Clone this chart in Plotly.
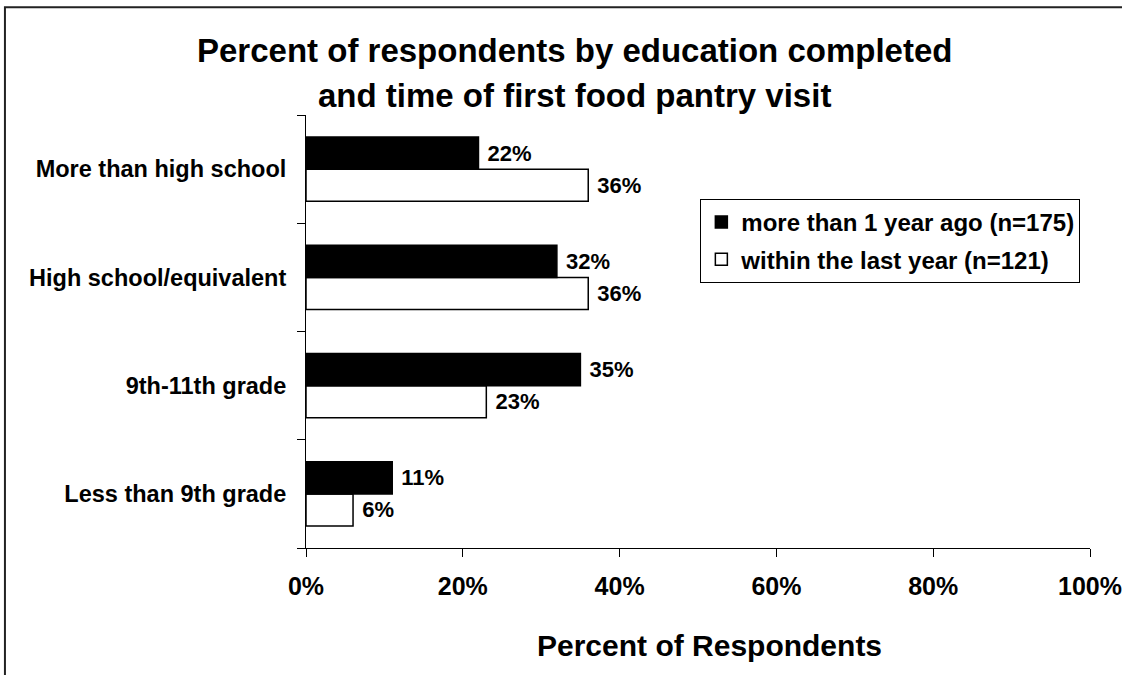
import plotly.graph_objects as go

# Education levels, bottom to top on the category axis
categories = ["Less than 9th grade", "9th-11th grade", "High school/equivalent", "More than high school"]

# Percent of respondents in each group
more_than_1yr = [11, 35, 32, 22]
within_last_year = [6, 23, 36, 36]

series_names = ["more than 1 year ago (n=175)", "within the last year (n=121)"]
x_ticks = [0, 20, 40, 60, 80, 100]
x_tick_labels = ["0%", "20%", "40%", "60%", "80%", "100%"]

FONT = "Liberation Sans, Arial, sans-serif"
NBSP = "\u00a0"

fig = go.Figure()

# White bars first so they sit below the black bars inside each group
fig.add_trace(go.Bar(
    y=categories, x=within_last_year, orientation="h", name=f"<b>{series_names[1]}</b>",
    marker=dict(color="white", line=dict(color="black", width=1.5)),
    text=[f"<b>{NBSP}{v}%</b>" for v in within_last_year], textposition="outside",
    textfont=dict(family=FONT, size=22, color="black"),
    constraintext="none", cliponaxis=False, legendgroup="b", legendrank=2,
))
fig.add_trace(go.Bar(
    y=categories, x=more_than_1yr, orientation="h", name=f"<b>{series_names[0]}</b>",
    marker=dict(color="black", line=dict(color="black", width=1.5)),
    text=[f"<b>{NBSP}{v}%</b>" for v in more_than_1yr], textposition="outside",
    textfont=dict(family=FONT, size=22, color="black"),
    constraintext="none", cliponaxis=False, legendgroup="a", legendrank=1,
))

fig.update_layout(
    width=1122, height=675,
    margin=dict(l=306, r=32, t=115, b=127, autoexpand=False),
    paper_bgcolor="white", plot_bgcolor="white",
    barmode="group", bargap=0.407, bargroupgap=0,
    font=dict(family=FONT, color="black"),
    showlegend=True,
    legend=dict(
        x=0.503, y=0.806, xanchor="left", yanchor="top",
        traceorder="grouped", tracegroupgap=3,
        bordercolor="black", borderwidth=1, bgcolor="white",
        font=dict(family=FONT, size=24, color="black"),
        itemwidth=30,
    ),
    xaxis=dict(
        range=[0, 100], tickvals=x_ticks,
        ticktext=[f"<b>{t}</b>" for t in x_tick_labels],
        showgrid=False, zeroline=False, automargin=False,
        showline=True, linecolor="black", linewidth=1,
        ticks="outside", ticklen=8, tickcolor="black",
        tickfont=dict(family=FONT, size=25, color="black"),
        ticklabelstandoff=8,
    ),
    yaxis=dict(
        showgrid=False, zeroline=False, automargin=False,
        showline=True, linecolor="black", linewidth=1,
        ticks="outside", ticklen=8, tickcolor="black", tickson="boundaries",
        tickfont=dict(family=FONT, size=23.5, color="black"),
        tickprefix="<b>", ticksuffix="</b>",
        ticklabelstandoff=14,
    ),
    shapes=[
        # outer chart frame
        dict(type="rect", xref="paper", yref="paper",
             x0=-0.384, x1=1.1, y0=-0.4, y1=1.249,
             line=dict(color="#222", width=2), fillcolor="rgba(0,0,0,0)", layer="below"),
    ],
    annotations=[
        dict(text="<b>Percent of respondents by education completed</b>",
             xref="paper", yref="paper", x=0.342, y=1.148,
             xanchor="center", yanchor="middle", showarrow=False,
             font=dict(family=FONT, size=33, color="black")),
        dict(text="<b>and time of first food pantry visit</b>",
             xref="paper", yref="paper", x=0.342, y=1.044,
             xanchor="center", yanchor="middle", showarrow=False,
             font=dict(family=FONT, size=33, color="black")),
        dict(text="<b>Percent of Respondents</b>",
             xref="paper", yref="paper", x=0.515, y=-0.225,
             xanchor="center", yanchor="middle", showarrow=False,
             font=dict(family=FONT, size=30, color="black")),
    ],
)

fig.write_html("out.html")
